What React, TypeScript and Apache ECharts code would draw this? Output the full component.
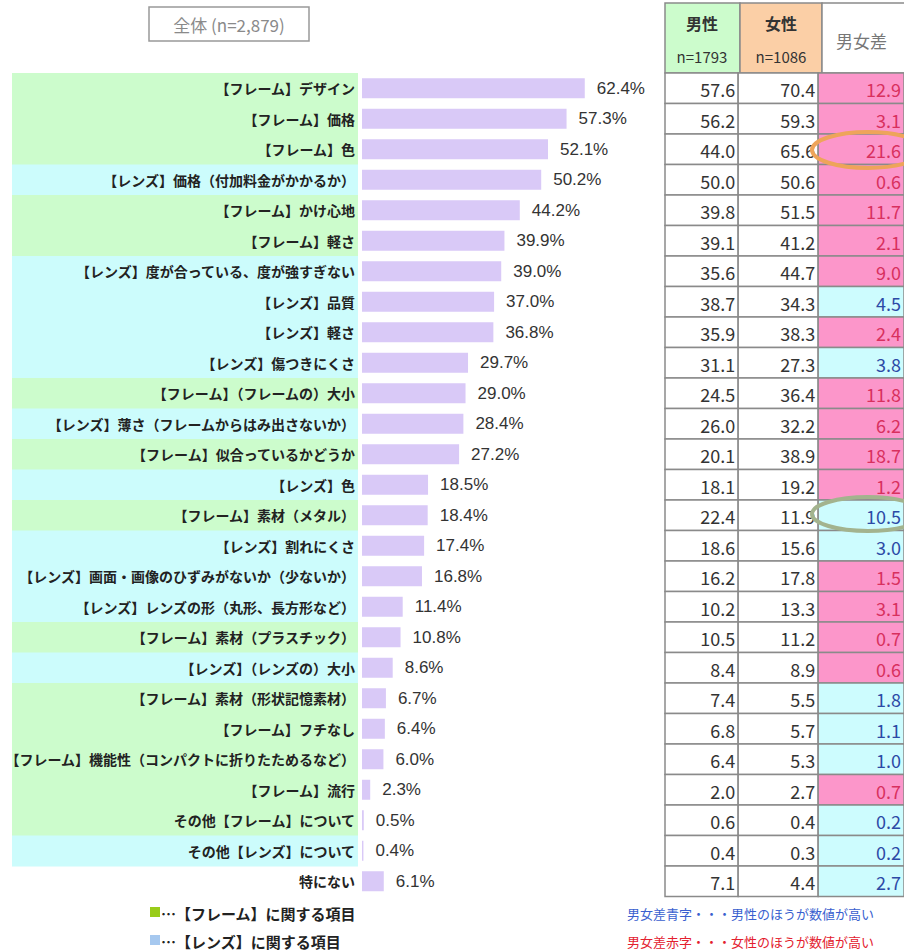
import React, { useEffect, useRef } from "react";
import * as echarts from "echarts";

const CATEGORIES = [
  "【フレーム】デザイン",
  "【フレーム】価格",
  "【フレーム】色",
  "【レンズ】価格（付加料金がかかるか）",
  "【フレーム】かけ心地",
  "【フレーム】軽さ",
  "【レンズ】度が合っている、度が強すぎない",
  "【レンズ】品質",
  "【レンズ】軽さ",
  "【レンズ】傷つきにくさ",
  "【フレーム】（フレームの）大小",
  "【レンズ】薄さ（フレームからはみ出さないか）",
  "【フレーム】似合っているかどうか",
  "【レンズ】色",
  "【フレーム】素材（メタル）",
  "【レンズ】割れにくさ",
  "【レンズ】画面・画像のひずみがないか（少ないか）",
  "【レンズ】レンズの形（丸形、長方形など）",
  "【フレーム】素材（プラスチック）",
  "【レンズ】（レンズの）大小",
  "【フレーム】素材（形状記憶素材）",
  "【フレーム】フチなし",
  "【フレーム】機能性（コンパクトに折りたためるなど）",
  "【フレーム】流行",
  "その他【フレーム】について",
  "その他【レンズ】について",
  "特にない",
];

// F = frame item, L = lens item, N = none
const GROUPS = [
  "F", "F", "F", "L", "F", "F", "L", "L", "L", "L", "F", "L", "F", "L",
  "F", "L", "L", "L", "F", "L", "F", "F", "F", "F", "F", "L", "N",
];

const TOTAL = [
  62.4, 57.3, 52.1, 50.2, 44.2, 39.9, 39.0, 37.0, 36.8, 29.7, 29.0, 28.4, 27.2, 18.5,
  18.4, 17.4, 16.8, 11.4, 10.8, 8.6, 6.7, 6.4, 6.0, 2.3, 0.5, 0.4, 6.1,
];
const MALE = [
  57.6, 56.2, 44.0, 50.0, 39.8, 39.1, 35.6, 38.7, 35.9, 31.1, 24.5, 26.0, 20.1, 18.1,
  22.4, 18.6, 16.2, 10.2, 10.5, 8.4, 7.4, 6.8, 6.4, 2.0, 0.6, 0.4, 7.1,
];
const FEMALE = [
  70.4, 59.3, 65.6, 50.6, 51.5, 41.2, 44.7, 34.3, 38.3, 27.3, 36.4, 32.2, 38.9, 19.2,
  11.9, 15.6, 17.8, 13.3, 11.2, 8.9, 5.5, 5.7, 5.3, 2.7, 0.4, 0.3, 4.4,
];
const DIFF = [
  12.9, 3.1, 21.6, 0.6, 11.7, 2.1, 9.0, 4.5, 2.4, 3.8, 11.8, 6.2, 18.7, 1.2,
  10.5, 3.0, 1.5, 3.1, 0.7, 0.6, 1.8, 1.1, 1.0, 0.7, 0.2, 0.2, 2.7,
];

const TITLE = "全体 (n=2,879)";
const HEADER_MALE = ["男性", "n=1793"];
const HEADER_FEMALE = ["女性", "n=1086"];
const HEADER_DIFF = "男女差";
const LEGEND_FRAME = "…【フレーム】に関する項目";
const LEGEND_LENS = "…【レンズ】に関する項目";
const NOTE_BLUE = "男女差青字・・・男性のほうが数値が高い";
const NOTE_RED = "男女差赤字・・・女性のほうが数値が高い";

// layout (table column edges on the table axis)
const COL_EDGES = [0, 75, 157, 245];

const JP = "'Noto Sans CJK JP', sans-serif";

export default function App() {
  const ref = useRef<HTMLDivElement>(null);

  useEffect(() => {
    if (!ref.current) return;
    const chart = echarts.init(ref.current, null, { renderer: "svg" });

    const bandColor: Record<string, string> = { F: "#ccfccc", L: "#ccfcfc" };

    const option: any = {
      animation: false,
      backgroundColor: "#ffffff",
      grid: [
        { left: 362, top: 73, width: 357, height: 823.5, containLabel: false },
        { left: 665, top: 73, width: 245, height: 823.5, containLabel: false },
      ],
      xAxis: [
        { type: "value", gridIndex: 0, min: 0, max: 100, show: false },
        { type: "value", gridIndex: 1, min: 0, max: 245, show: false },
      ],
      yAxis: [
        {
          type: "category",
          gridIndex: 0,
          data: CATEGORIES,
          inverse: true,
          z: 10,
          axisLine: { show: false },
          axisTick: { show: false },
          splitLine: { show: false },
          axisLabel: {
            margin: 7,
            fontSize: 14,
            fontWeight: "bold",
            color: "#222",
            fontFamily: JP,
          },
        },
        {
          type: "category",
          gridIndex: 1,
          data: CATEGORIES,
          inverse: true,
          show: false,
        },
      ],
      series: [
        {
          type: "custom",
          name: "band",
          xAxisIndex: 0,
          yAxisIndex: 0,
          z: 1,
          clip: false,
          silent: true,
          data: CATEGORIES.map((_, i) => [0, i]),
          encode: { x: 0, y: 1 },
          renderItem: (params: any, api: any) => {
            const idx = api.value(1);
            const g = GROUPS[idx];
            if (g === "N") return null;
            const c = api.coord([0, idx]);
            const h = api.size([0, 1])[1];
            return {
              type: "rect",
              shape: { x: 12, y: c[1] - h / 2, width: c[0] - 4 - 12, height: h + 0.6 },
              style: { fill: bandColor[g] },
            };
          },
        },
        {
          type: "bar",
          name: "全体",
          xAxisIndex: 0,
          yAxisIndex: 0,
          z: 3,
          data: TOTAL,
          barWidth: 20,
          itemStyle: { color: "#d9c9f7" },
          label: {
            show: true,
            position: "right",
            distance: 12,
            fontSize: 17,
            color: "#333",
            fontFamily: "'Liberation Sans', Arial, sans-serif",
            formatter: (p: any) => Number(p.value).toFixed(1) + "%",
          },
        },
        {
          type: "custom",
          name: "table",
          xAxisIndex: 1,
          yAxisIndex: 1,
          z: 4,
          clip: false,
          silent: true,
          data: CATEGORIES.map((_, i) => [0, i]),
          encode: { x: 0, y: 1 },
          renderItem: (params: any, api: any) => {
            const idx = api.value(1);
            const h = api.size([0, 1])[1];
            const yc = api.coord([0, idx])[1];
            const vals = [MALE[idx], FEMALE[idx], DIFF[idx]];
            const femaleHigher = FEMALE[idx] > MALE[idx];
            const children: any[] = [];
            for (let c = 0; c < 3; c++) {
              const x0 = api.coord([COL_EDGES[c], idx])[0];
              const x1 = api.coord([COL_EDGES[c + 1], idx])[0];
              let fill = "#ffffff";
              let color = "#333333";
              if (c === 2) {
                fill = femaleHigher ? "#fc96ca" : "#cdfcfe";
                color = femaleHigher ? "#d8305e" : "#2c4aa6";
              }
              children.push({
                type: "rect",
                shape: { x: x0, y: yc - h / 2, width: x1 - x0, height: h },
                style: { fill, stroke: "#8a8a8a", lineWidth: 1.5 },
              });
              children.push({
                type: "text",
                style: {
                  x: x1 - 3,
                  y: yc + 1,
                  text: vals[c].toFixed(1),
                  align: "right",
                  verticalAlign: "middle",
                  fontSize: 18,
                  fontFamily: JP,
                  fill: color,
                },
              });
            }
            return { type: "group", children };
          },
        },
      ],
      graphic: [
        // title box
        {
          type: "rect",
          shape: { x: 149, y: 7, width: 160, height: 34 },
          style: { fill: "#fff", stroke: "#999", lineWidth: 1.5 },
        },
        {
          type: "text",
          x: 229,
          y: 24,
          style: {
            text: TITLE,
            align: "center",
            verticalAlign: "middle",
            fontSize: 17,
            fontFamily: JP,
            fill: "#8a8a8a",
          },
        },
        // header cells
        {
          type: "rect",
          shape: { x: 665, y: 3, width: 75, height: 70 },
          style: { fill: "#ccfccc", stroke: "#8a8a8a", lineWidth: 1.5 },
        },
        {
          type: "rect",
          shape: { x: 740, y: 3, width: 82, height: 70 },
          style: { fill: "#fbcfa6", stroke: "#8a8a8a", lineWidth: 1.5 },
        },
        {
          type: "rect",
          shape: { x: 822, y: 3, width: 90, height: 70 },
          style: { fill: "#ffffff", stroke: "#8a8a8a", lineWidth: 1.5 },
        },
        {
          type: "text",
          x: 702,
          y: 23,
          style: { text: HEADER_MALE[0], align: "center", verticalAlign: "middle", fontSize: 16, fontWeight: "bold", fontFamily: JP, fill: "#333" },
        },
        {
          type: "text",
          x: 702,
          y: 56,
          style: { text: HEADER_MALE[1], align: "center", verticalAlign: "middle", fontSize: 15, fontFamily: JP, fill: "#333" },
        },
        {
          type: "text",
          x: 781,
          y: 23,
          style: { text: HEADER_FEMALE[0], align: "center", verticalAlign: "middle", fontSize: 16, fontWeight: "bold", fontFamily: JP, fill: "#333" },
        },
        {
          type: "text",
          x: 781,
          y: 56,
          style: { text: HEADER_FEMALE[1], align: "center", verticalAlign: "middle", fontSize: 15, fontFamily: JP, fill: "#333" },
        },
        {
          type: "text",
          x: 836,
          y: 40,
          style: { text: HEADER_DIFF, align: "left", verticalAlign: "middle", fontSize: 17, fontFamily: JP, fill: "#777" },
        },
        // highlight ellipses
        {
          type: "ellipse",
          z: 100,
          shape: { cx: 868, cy: 150, rx: 56, ry: 18 },
          style: { fill: "none", stroke: "#eea45a", lineWidth: 4 },
        },
        {
          type: "ellipse",
          z: 100,
          shape: { cx: 868, cy: 514, rx: 56, ry: 17 },
          style: { fill: "none", stroke: "#a3b38e", lineWidth: 4 },
        },
        // legend
        {
          type: "rect",
          shape: { x: 150, y: 907, width: 10, height: 10 },
          style: { fill: "#99cc1a" },
        },
        {
          type: "text",
          x: 161,
          y: 913,
          style: { text: LEGEND_FRAME, verticalAlign: "middle", fontSize: 15, fontWeight: "bold", fontFamily: JP, fill: "#222" },
        },
        {
          type: "rect",
          shape: { x: 150, y: 935, width: 10, height: 10 },
          style: { fill: "#a6c8ef" },
        },
        {
          type: "text",
          x: 161,
          y: 941,
          style: { text: LEGEND_LENS, verticalAlign: "middle", fontSize: 15, fontWeight: "bold", fontFamily: JP, fill: "#222" },
        },
        {
          type: "text",
          x: 627,
          y: 913,
          style: { text: NOTE_BLUE, verticalAlign: "middle", fontSize: 13, fontFamily: JP, fill: "#3a5fcf" },
        },
        {
          type: "text",
          x: 627,
          y: 941,
          style: { text: NOTE_RED, verticalAlign: "middle", fontSize: 13, fontFamily: JP, fill: "#e3202e" },
        },
      ],
    };

    chart.setOption(option);
    return () => chart.dispose();
  }, []);

  return (
    <div
      ref={ref}
      style={{ position: "absolute", left: 0, top: 0, width: 904, height: 950 }}
    />
  );
}
